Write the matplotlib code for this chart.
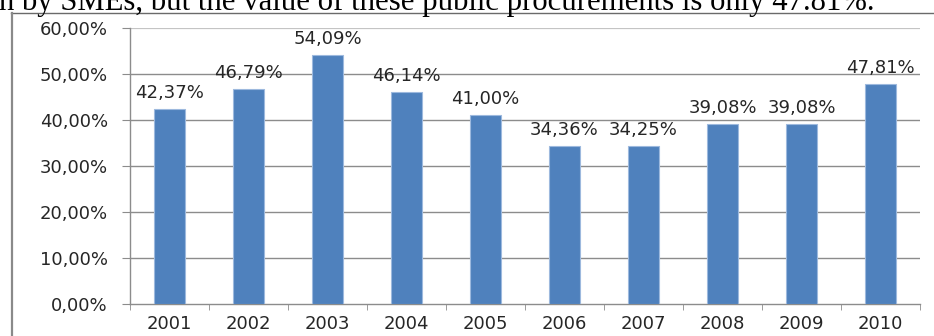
import matplotlib
matplotlib.use("Agg")
import matplotlib.pyplot as plt
from matplotlib.lines import Line2D
from matplotlib.ticker import FixedLocator

years = ["2001", "2002", "2003", "2004", "2005", "2006", "2007", "2008", "2009", "2010"]
shares = [42.37, 46.79, 54.09, 46.14, 41.00, 34.36, 34.25, 39.08, 39.08, 47.81]
y_ticks = [0, 10, 20, 30, 40, 50, 60]
caption = "n by SMEs, but the value of these public procurements is only 47.81%."

W, H = 934, 336
fig = plt.figure(figsize=(W / 100, H / 100), dpi=100)
fig.patch.set_facecolor("white")

# caption (partially cut off at top, as in the source)
cap = fig.text(-0.001, 1 - 10 / H, caption, family="Liberation Serif",
               fontsize=20, va="baseline", ha="left", color="black")
fig.canvas.draw()
bb = cap.get_window_extent()
cap.set_fontsize(20 * 877 / bb.width)

# frame lines around chart
fig.add_artist(Line2D([11 / W, 1.0], [1 - 12.5 / H, 1 - 12.5 / H],
                      transform=fig.transFigure, color="#6a6a6a", lw=1.0))
fig.add_artist(Line2D([11.5 / W, 11.5 / W], [0, 1 - 12.5 / H],
                      transform=fig.transFigure, color="#8a8a8a", lw=1.6))

ax = fig.add_axes([130 / W, 32 / H, 790 / W, 276 / H])
x = list(range(len(years)))
ax.bar(x, shares, width=0.39, color="#4F81BD", edgecolor="#9db9de", linewidth=0.8, zorder=3)

ax.set_xlim(-0.5, len(years) - 0.5)
ax.set_ylim(0, 60)

ax.yaxis.set_major_locator(FixedLocator(y_ticks))
ax.set_yticklabels([f"{v:.2f}".replace(".", ",") + "%" for v in y_ticks])
ax.set_xticks(x)
ax.set_xticklabels(years)
ax.set_xticks([i - 0.5 for i in range(len(years) + 1)], minor=True)

for v in y_ticks[1:]:
    ax.axhline(v, color="#8c8c8c" if v < 60 else "#c4c4c4", lw=1.0 if v < 60 else 1.6, zorder=1)

for s in ["top", "right"]:
    ax.spines[s].set_visible(False)
for s in ["left", "bottom"]:
    ax.spines[s].set_color("#8c8c8c")
    ax.spines[s].set_linewidth(1.0)

FS = 13
ax.tick_params(axis="y", which="major", length=6, color="#8c8c8c", pad=10,
               labelsize=FS, labelcolor="#262626")
ax.tick_params(axis="x", which="major", length=0, pad=8, labelsize=FS, labelcolor="#262626")
ax.tick_params(axis="x", which="minor", length=4, color="#8c8c8c")

for xi, v in zip(x, shares):
    ax.annotate(f"{v:.2f}".replace(".", ",") + "%", (xi, v), xytext=(0, 11.5),
                textcoords="offset points", ha="center", va="center",
                fontsize=FS, color="#262626", zorder=4)

fig.savefig("out.png", dpi=100)
